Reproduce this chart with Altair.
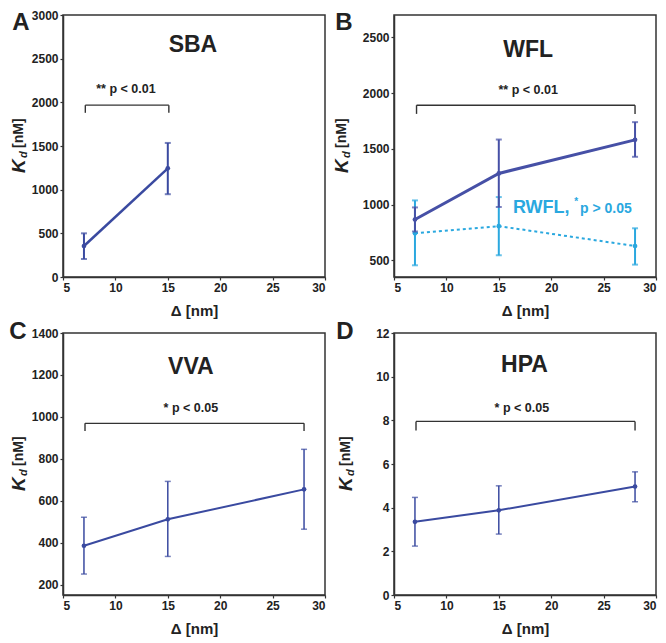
import altair as alt
import pandas as pd

FONT = "Liberation Sans"
TXT = "#222222"
DARK = "#3a4aa0"
WFL_C = "#4650a6"
CYAN = "#2aa8df"

X_TICKS = [5, 10, 15, 20, 25, 30]
X_DOMAIN = [5, 30]

# ---- SBA (A)
sba_x = [7, 15]
sba_y = [355, 1244]
sba_lo = [206, 948]
sba_hi = [500, 1535]

# ---- WFL / RWFL (B)
wfl_x = [7, 15, 28]
wfl_y = [866, 1279, 1580]
wfl_lo = [758, 978, 1428]
wfl_hi = [974, 1583, 1739]

rwfl_x = [7, 15, 28]
rwfl_y = [742, 806, 628]
rwfl_lo = [455, 545, 461]
rwfl_hi = [1037, 1067, 787]

# ---- VVA (C)
vva_x = [7, 15, 28]
vva_y = [385, 511, 654]
vva_lo = [250, 334, 464]
vva_hi = [521, 692, 845]

# ---- HPA (D)
hpa_x = [7, 15, 28]
hpa_y = [3.35, 3.88, 4.97]
hpa_lo = [2.24, 2.79, 4.27]
hpa_hi = [4.47, 5.00, 5.64]

# y axes
a_dom, a_ticks = [0, 3000], [0, 500, 1000, 1500, 2000, 2500, 3000]
b_dom, b_ticks = [350, 2700], [500, 1000, 1500, 2000, 2500]
c_dom, c_ticks = [150, 1400], [200, 400, 600, 800, 1000, 1200, 1400]
d_dom, d_ticks = [0, 12], [0, 2, 4, 6, 8, 10, 12]

# annotations: brackets [x_left, x_right], [y_top, y_tick_bottom]
a_br_x, a_br_y = [7.13, 15.1], [1968, 1880]
b_br_x, b_br_y = [7.15, 28.0], [1891, 1813]
c_br_x, c_br_y = [7.1, 28.0], [969, 933]
d_br_x, d_br_y = [7.1, 28.0], [7.95, 7.53]

a_p = ["** p < 0.01", 11.0, 2148]
b_p = ["** p < 0.01", 17.8, 2030]
c_p = ["* p < 0.05", 17.2, 1043]
d_p = ["* p < 0.05", 17.2, 8.58]

a_t = ["SBA", 17.4, 2654]
b_t = ["WFL", 17.8, 2389]
c_t = ["VVA", 17.2, 1238]
d_t = ["HPA", 17.45, 10.54]

rwfl_label = ["RWFL,", 16.35, 920]
rwfl_star = ["*", 22.2, 995]
rwfl_p = ["p > 0.05", 22.75, 920]

W, H = 262, 262


def panel(series, ydom, yticks, bracket_x, bracket_y, ptxt, ttl, letter, letter_pos, ytitle_x, extra=None):
    xs = alt.Scale(domain=X_DOMAIN, nice=False, zero=False)
    ys = alt.Scale(domain=ydom, nice=False, zero=False)
    xax = alt.Axis(values=X_TICKS, title="Δ [nm]", grid=False, format="d")
    yax = alt.Axis(values=yticks, title=None, grid=False, format="d")

    def X(f):
        return alt.X(f + ":Q", scale=xs, axis=xax)

    def Y(f):
        return alt.Y(f + ":Q", scale=ys, axis=yax)

    layers = []
    for s in series:
        df = pd.DataFrame({"x": s["x"], "y": s["y"], "lo": s["lo"], "hi": s["hi"]})
        base = alt.Chart(df)
        line_kw = dict(color=s["color"], strokeWidth=s["lw"])
        if s.get("dash"):
            line_kw["strokeDash"] = s["dash"]
        layers.append(base.mark_line(**line_kw).encode(x=X("x"), y=Y("y")))
        layers.append(
            base.mark_errorbar(ticks=True, size=6, thickness=s["ew"], color=s["color"]).encode(
                x=X("x"), y=Y("lo"), y2=alt.Y2("hi")
            )
        )
        layers.append(
            base.mark_circle(size=22, opacity=1, color=s["color"]).encode(x=X("x"), y=Y("y"))
        )

    bdf = pd.DataFrame(
        {
            "x": [bracket_x[0], bracket_x[0], bracket_x[1]],
            "x2": [bracket_x[1], bracket_x[0], bracket_x[1]],
            "y": [bracket_y[0], bracket_y[0], bracket_y[0]],
            "y2": [bracket_y[0], bracket_y[1], bracket_y[1]],
        }
    )
    layers.append(
        alt.Chart(bdf)
        .mark_rule(color="#333333", strokeWidth=1.4)
        .encode(x=X("x"), x2=alt.X2("x2"), y=Y("y"), y2=alt.Y2("y2"))
    )

    def dtext(item, size, color=TXT, align="center", baseline="middle"):
        df = pd.DataFrame({"t": [item[0]], "x": [item[1]], "y": [item[2]]})
        return (
            alt.Chart(df)
            .mark_text(font=FONT, fontWeight="bold", fontSize=size, color=color, align=align, baseline=baseline)
            .encode(x=X("x"), y=Y("y"), text="t:N")
        )

    layers.append(dtext(ptxt, 12.5))
    layers.append(dtext(ttl, 23))
    if extra:
        for e in extra:
            layers.append(dtext(e[0], e[1], color=e[2], align="left", baseline="alphabetic"))

    def ptext(t, x, y, size, style="normal", angle=0, align="center", baseline="middle"):
        return alt.Chart(alt.Data(values=[{}])).mark_text(
            text=t, font=FONT, fontWeight="bold", fontStyle=style, fontSize=size, color=TXT,
            angle=angle, align=align, baseline=baseline,
        ).encode(x=alt.value(x), y=alt.value(y))

    layers.append(ptext(letter, letter_pos[0], letter_pos[1], 24))
    layers.append(ptext("K", ytitle_x, H / 2 + 27, 19, style="italic", angle=270, align="left"))
    layers.append(ptext("d", ytitle_x + 5, H / 2 + 12, 11, style="italic", angle=270, align="left"))
    layers.append(ptext("[nM]", ytitle_x, H / 2 + 2, 14, angle=270, align="left"))

    return alt.layer(*layers).properties(width=W, height=H)


A = panel(
    [dict(x=sba_x, y=sba_y, lo=sba_lo, hi=sba_hi, color=DARK, lw=2.5, ew=2)],
    a_dom, a_ticks, a_br_x, a_br_y, a_p, a_t, "A", (-42, 8), -44,
)
B = panel(
    [
        dict(x=rwfl_x, y=rwfl_y, lo=rwfl_lo, hi=rwfl_hi, color=CYAN, lw=2, ew=2, dash=[3, 3]),
        dict(x=wfl_x, y=wfl_y, lo=wfl_lo, hi=wfl_hi, color=WFL_C, lw=3, ew=2),
    ],
    b_dom, b_ticks, b_br_x, b_br_y, b_p, b_t, "B", (-50, 8), -52,
    extra=[(rwfl_label, 18, CYAN), (rwfl_star, 10, CYAN), (rwfl_p, 14, CYAN)],
)
C = panel(
    [dict(x=vva_x, y=vva_y, lo=vva_lo, hi=vva_hi, color=DARK, lw=2, ew=1.5)],
    c_dom, c_ticks, c_br_x, c_br_y, c_p, c_t, "C", (-45, -1), -44,
)
D = panel(
    [dict(x=hpa_x, y=hpa_y, lo=hpa_lo, hi=hpa_hi, color=DARK, lw=2, ew=1.5)],
    d_dom, d_ticks, d_br_x, d_br_y, d_p, d_t, "D", (-49, -1), -48,
)

chart = (
    alt.ConcatChart(
        concat=[A, B, C, D],
        columns=2,
        spacing={"row": 56, "column": 69},
        bounds="flush",
    )
    .properties(padding=0)
    .configure_view(stroke="#333333", strokeWidth=1.5)
    .configure_axis(
        domainColor="#333333",
        domainWidth=1.5,
        tickColor="#333333",
        tickSize=3,
        tickWidth=1.2,
        labelFont=FONT,
        labelFontWeight="bold",
        labelFontSize=12,
        labelColor=TXT,
        labelPadding=2,
        titleFont=FONT,
        titleFontWeight="bold",
        titleFontSize=15,
        titleColor=TXT,
        titlePadding=10,
    )
)

chart.save("out.html", embed_options={"renderer": "svg", "actions": False})
